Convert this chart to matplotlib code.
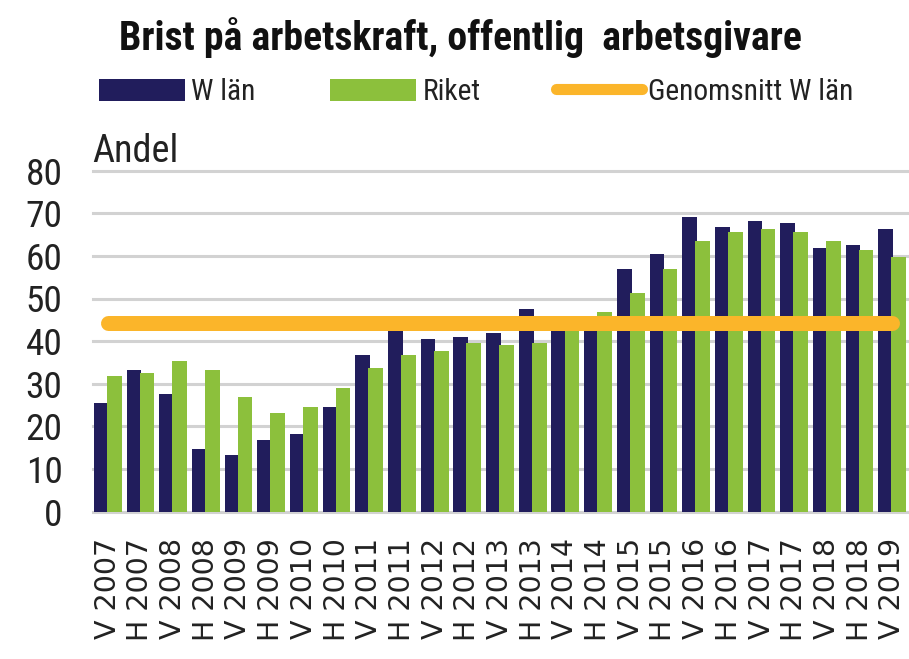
import matplotlib
matplotlib.use("Agg")
import matplotlib.pyplot as plt
from matplotlib.patches import Patch
from matplotlib.lines import Line2D
from matplotlib import font_manager as fm
import numpy as np

categories = ['V 2007', 'H 2007', 'V 2008', 'H 2008', 'V 2009', 'H 2009', 'V 2010',
              'H 2010', 'V 2011', 'H 2011', 'V 2012', 'H 2012', 'V 2013', 'H 2013',
              'V 2014', 'H 2014', 'V 2015', 'H 2015', 'V 2016', 'H 2016', 'V 2017',
              'H 2017', 'V 2018', 'H 2018', 'V 2019']
w_lan = [25.4, 33.2, 27.6, 14.7, 13.3, 16.8, 18.2, 24.6, 36.8, 43.0, 40.4, 41.0, 41.8,
         47.5, 42.5, 42.5, 56.9, 60.4, 69.2, 66.9, 68.3, 67.8, 61.9, 62.6, 66.2]
riket = [31.8, 32.6, 35.4, 33.2, 26.8, 23.2, 24.6, 29.0, 33.8, 36.8, 37.6, 39.6, 39.1,
         39.6, 43.0, 46.8, 51.2, 56.9, 63.5, 65.5, 66.2, 65.5, 63.5, 61.4, 59.8]
genomsnitt_w = 44.2
yticks = [0, 10, 20, 30, 40, 50, 60, 70, 80]
legend_labels = ['W län', 'Riket', 'Genomsnitt W län']
title = 'Brist på arbetskraft, offentlig  arbetsgivare'

DARK = '#211d5c'
GREEN = '#8cc03c'
ORANGE = '#fbb52a'
TXT = '#222222'

available = set(f.name for f in fm.fontManager.ttflist)
NARROW_FONT = 'Liberation Sans'
for cand in ['Liberation Sans Narrow', 'Arial Narrow', 'Roboto Condensed', 'PT Sans Narrow',
             'Pragati Narrow', 'Archivo Narrow', 'Asap Condensed', 'Barlow Semi Condensed']:
    if cand in available:
        NARROW_FONT = cand
        break
NARROW = [NARROW_FONT, 'DejaVu Sans']

W, H = 909, 659
fig = plt.figure(figsize=(W / 100, H / 100), dpi=100)
renderer = fig.canvas.get_renderer()


def fit_size(text, target_px, weight='normal', base=20):
    t = fig.text(0, 0, text, fontfamily=NARROW, fontsize=base, fontweight=weight)
    w = t.get_window_extent(renderer).width
    t.remove()
    return base * target_px / w


left, right = 93, 907
top, bottom = 170.7, 511.5
ax = fig.add_axes([left / W, 1 - bottom / H, (right - left) / W, (bottom - top) / H])

x = np.arange(len(categories))
bw = 0.45
ax.bar(x - 0.2, w_lan, width=bw, color=DARK, zorder=2)
ax.bar(x + 0.2, riket, width=bw, color=GREEN, zorder=3)
ax.plot([x[0], x[-1]], [genomsnitt_w, genomsnitt_w], color=ORANGE, lw=10.8,
        solid_capstyle='round', zorder=4)

ax.set_xlim(-0.45, 24.45)
ax.set_ylim(0, 80)
ytick_fs = fit_size('80', 37)
ax.set_yticks(yticks)
ax.set_yticklabels([str(v) for v in yticks], fontfamily=NARROW, fontsize=ytick_fs, color=TXT)
ax.set_xticks(x)
ax.set_xticklabels(categories, rotation=90, fontfamily='DejaVu Sans', fontsize=20.5,
                   color=TXT, va='top', ha='center')
ax.tick_params(axis='y', length=0, pad=22)
ax.tick_params(axis='x', length=0, pad=19)
for s in ax.spines.values():
    s.set_visible(False)
ax.yaxis.grid(True, color='#d2d2d2', lw=2.2, zorder=0)
ax.set_axisbelow(True)
for gl in ax.get_ygridlines():
    gl.set_clip_on(False)

title_fs = fit_size(title, 680, weight='bold')
fig.text(460 / W, 1 - 50 / H, title, ha='center', va='baseline', fontfamily=NARROW,
         fontweight='bold', fontsize=title_fs, color='#111111')
andel_fs = fit_size('Andel', 86)
fig.text(92 / W, 1 - 162 / H, 'Andel', ha='left', va='baseline', fontfamily=NARROW,
         fontsize=andel_fs, color=TXT)

leg_fs = fit_size(legend_labels[2], 205)
fs_px = leg_fs * 100 / 72
handles = [Patch(facecolor=DARK, edgecolor='none'),
           Patch(facecolor=GREEN, edgecolor='none'),
           Line2D([0], [0], color=ORANGE, lw=8, solid_capstyle='round')]
leg = fig.legend(handles, legend_labels, ncol=3,
                 loc='center left', bbox_to_anchor=(99 / W, 1 - 92 / H),
                 frameon=False, borderpad=0, borderaxespad=0,
                 handlelength=86 / fs_px, handleheight=23 / fs_px, handletextpad=6 / fs_px,
                 columnspacing=75 / fs_px, prop={'family': NARROW, 'size': leg_fs})
for t in leg.get_texts():
    t.set_color(TXT)

fig.savefig('out.png', dpi=100)
